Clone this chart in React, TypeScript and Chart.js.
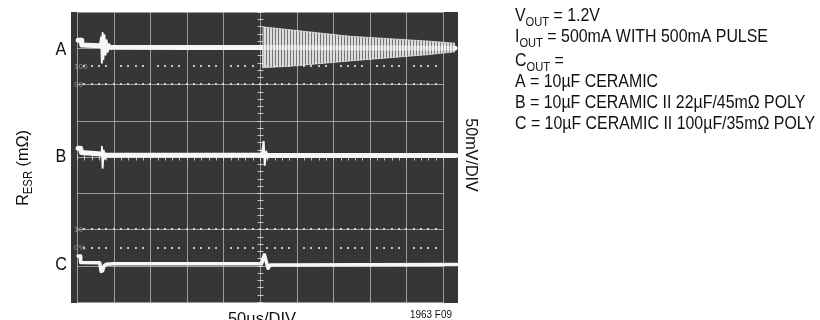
import React, { useEffect, useRef } from "react";
import { Chart, registerables } from "chart.js";
Chart.register(...registerables);

// Scope traces, in screen divisions (x: 0..10 time div, y: 0..8 vertical div)
const traceA: [number, number][] = [
  [0.03, 7.22], [0.12, 7.22], [0.13, 7.09], [0.62, 7.07], [0.9, 7.03],
  [3.0, 7.02], [5.06, 7.02], [10.33, 7.0],
];
const traceARing: [number, number][] = [
  [0.62, 7.07], [0.66, 7.3], [0.68, 6.6], [0.7, 7.42], [0.72, 6.7], [0.75, 7.36],
  [0.78, 6.82], [0.81, 7.22], [0.84, 6.9], [0.88, 7.12], [0.93, 6.98], [1.0, 7.04],
];
const traceAEnvTop: [number, number][] = [
  [5.07, 7.02], [5.08, 7.59], [5.9, 7.5], [7.46, 7.33], [9.56, 7.2], [10.33, 7.14],
];
const traceAEnvBottom: [number, number][] = [
  [5.07, 7.02], [5.08, 6.46], [5.9, 6.51], [7.46, 6.65], [9.56, 6.82], [10.33, 6.9],
];
const traceB: [number, number][] = [
  [0.03, 4.24], [0.1, 4.24], [0.12, 4.12], [0.66, 4.08], [0.8, 4.05],
  [5.05, 4.05], [5.27, 4.04], [10.35, 4.04],
];
const traceBRing1: [number, number][] = [
  [0.66, 4.08], [0.68, 4.28], [0.7, 3.7], [0.73, 4.18], [0.76, 3.95], [0.8, 4.05],
];
const traceBRing2: [number, number][] = [
  [5.05, 4.05], [5.1, 4.42], [5.13, 3.78], [5.17, 4.15], [5.21, 3.98], [5.27, 4.04],
];
const traceC: [number, number][] = [
  [0.03, 1.27], [0.09, 1.27], [0.1, 1.09], [0.62, 1.08], [0.66, 0.84],
  [0.7, 0.86], [0.74, 1.0], [0.8, 1.04], [1.0, 1.05], [5.04, 1.05],
  [5.12, 1.3], [5.22, 0.93], [5.28, 1.02], [10.38, 1.03],
];

const traceLabels = ["A", "B", "C"];
const traceLabelLevels = [7.02, 4.06, 1.06];
const refMarks = ["100", "90", "10", "0%"];
const refMarkLevels = [6.5, 6.0, 2.0, 1.5];

type Seg = [string, number];
const noteLines: Seg[][] = [
  [["V", 0], ["OUT", 1], [" = 1.2V", 0]],
  [["I", 0], ["OUT", 1], [" = 500mA WITH 500mA PULSE", 0]],
  [["C", 0], ["OUT", 1], [" =", 0]],
  [["A = 10µF CERAMIC", 0]],
  [["B = 10µF CERAMIC II 22µF/45mΩ POLY", 0]],
  [["C = 10µF CERAMIC II 100µF/35mΩ POLY", 0]],
];
const noteBaselines = [21, 42, 66, 87, 108, 129];
const yTitle: Seg[] = [["R", 0], ["ESR", 1], [" (mΩ)", 0]];
const rightTitle = "50mV/DIV";
const xTitle = "50µs/DIV";
const figId = "1963 F09";

const FONT = '"Liberation Sans", Arial, sans-serif';

function pts(a: [number, number][]) {
  return a.map(([x, y]) => ({ x, y }));
}

function segWidth(ctx: CanvasRenderingContext2D, segs: Seg[], size: number, sx: number) {
  let w = 0;
  for (const [t, s] of segs) {
    ctx.font = `${s ? size * 0.7 : size}px ${FONT}`;
    w += ctx.measureText(t).width;
  }
  return w * sx;
}
function drawSegs(ctx: CanvasRenderingContext2D, segs: Seg[], x: number, y: number, size: number, sx: number) {
  ctx.save();
  ctx.translate(x, y);
  ctx.scale(sx, 1);
  let cx = 0;
  for (const [t, s] of segs) {
    ctx.font = `${s ? size * 0.7 : size}px ${FONT}`;
    ctx.fillText(t, cx, s ? size * 0.25 : 0);
    cx += ctx.measureText(t).width;
  }
  ctx.restore();
}
function drawCentered(ctx: CanvasRenderingContext2D, t: string, size: number, sx: number, x: number, y: number) {
  ctx.save();
  ctx.translate(x, y);
  ctx.scale(sx, 1);
  ctx.font = `${size}px ${FONT}`;
  ctx.textAlign = "center";
  ctx.fillText(t, 0, 0);
  ctx.restore();
}

export default function App() {
  const ref = useRef<HTMLCanvasElement>(null);
  useEffect(() => {
    const canvas = ref.current!;
    const pc = document.createElement("canvas");
    pc.width = 3;
    pc.height = 1;
    const pctx = pc.getContext("2d")!;
    pctx.fillStyle = "rgba(238,238,238,0.9)";
    pctx.fillRect(0, 0, 2, 1);
    pctx.fillStyle = "rgba(150,150,150,0.65)";
    pctx.fillRect(2, 0, 1, 1);
    const pattern = canvas.getContext("2d")!.createPattern(pc, "repeat")!;

    const scopeBg = {
      id: "scopeBg",
      beforeDatasetsDraw(chart: any) {
        const { ctx, chartArea: ca, scales } = chart;
        const xs = scales.x, ys = scales.y;
        ctx.save();
        ctx.fillStyle = "#363636";
        ctx.fillRect(ca.left, ca.top, ca.right - ca.left, ca.bottom - ca.top);
        const X = (v: number) => Math.round(xs.getPixelForValue(v)) + 0.5;
        const Y = (v: number) => Math.round(ys.getPixelForValue(v)) + 0.5;
        ctx.strokeStyle = "rgba(200,200,200,0.7)";
        ctx.lineWidth = 1;
        for (let i = 0; i <= 10; i++) {
          ctx.beginPath();
          ctx.moveTo(X(i), ca.top);
          ctx.lineTo(X(i), ca.bottom);
          ctx.stroke();
        }
        for (let j = 0; j <= 8; j++) {
          ctx.beginPath();
          ctx.moveTo(X(0), Y(j));
          ctx.lineTo(X(10), Y(j));
          ctx.stroke();
        }
        ctx.strokeStyle = "rgba(220,220,220,0.85)";
        for (let k = 0; k <= 40; k++) {
          const py = Y(k * 0.2);
          ctx.beginPath();
          ctx.moveTo(X(5) - 3, py);
          ctx.lineTo(X(5) + 3, py);
          ctx.stroke();
        }
        for (let k = 0; k <= 50; k++) {
          const px = X(k * 0.2);
          ctx.beginPath();
          ctx.moveTo(px, Y(4) - 3);
          ctx.lineTo(px, Y(4) + 3);
          ctx.stroke();
        }
        ctx.fillStyle = "rgba(225,225,225,0.85)";
        for (let m = 0; m < refMarkLevels.length; m++) {
          const lv = refMarkLevels[m];
          const py = Math.round(ys.getPixelForValue(lv));
          const full = lv % 1 === 0;
          for (let k = 1; k < 50; k++) {
            if (!full && k % 5 === 0) continue;
            const px = Math.round(xs.getPixelForValue(k * 0.2));
            ctx.fillRect(px - 1, py - 1, 2, 2);
          }
        }
        ctx.fillStyle = "rgba(170,170,170,0.8)";
        ctx.font = `8px ${FONT}`;
        ctx.textBaseline = "middle";
        ctx.textAlign = "left";
        for (let m = 0; m < refMarks.length; m++) {
          ctx.fillText(refMarks[m], ca.left + 3, ys.getPixelForValue(refMarkLevels[m]));
        }
        ctx.restore();
      },
      afterDraw(chart: any) {
        const { ctx, scales } = chart;
        const ys = scales.y;
        ctx.save();
        ctx.fillStyle = "#111";
        ctx.textBaseline = "alphabetic";
        ctx.textAlign = "left";
        for (let i = 0; i < traceLabels.length; i++) {
          drawCentered(ctx, traceLabels[i], 18, 0.9, 61, ys.getPixelForValue(traceLabelLevels[i]) + 7);
        }
        for (let i = 0; i < noteLines.length; i++) {
          drawSegs(ctx, noteLines[i], 515, noteBaselines[i], 18.5, 0.86);
        }
        // left rotated title
        ctx.save();
        ctx.translate(28, 168);
        ctx.rotate(-Math.PI / 2);
        const w = segWidth(ctx, yTitle, 17, 0.95);
        drawSegs(ctx, yTitle, -w / 2, 0, 17, 0.95);
        ctx.restore();
        // right rotated title
        ctx.save();
        ctx.translate(466, 155);
        ctx.rotate(Math.PI / 2);
        drawCentered(ctx, rightTitle, 17, 0.95, 0, 0);
        ctx.restore();
        drawCentered(ctx, xTitle, 17, 0.97, 262, 324);
        drawCentered(ctx, figId, 11, 0.9, 431, 318);
        ctx.restore();
      },
    };

    const line = (data: [number, number][], w: number) => ({
      data: pts(data),
      borderColor: "#f6f6f6",
      borderWidth: w,
      pointRadius: 0,
      tension: 0,
      fill: false,
      borderJoinStyle: "round" as const,
      borderCapStyle: "round" as const,
    });

    const chart = new Chart(canvas, {
      type: "line",
      data: {
        datasets: [
          {
            data: pts(traceAEnvTop),
            borderColor: "rgba(235,235,235,0.7)",
            borderWidth: 1,
            pointRadius: 0,
            tension: 0,
            fill: false,
          },
          {
            data: pts(traceAEnvBottom),
            borderColor: "rgba(235,235,235,0.7)",
            borderWidth: 1,
            pointRadius: 0,
            tension: 0,
            fill: "-1",
            backgroundColor: pattern as any,
          },
          line(traceA, 5),
          line(traceARing, 2),
          line(traceB, 5),
          line(traceBRing1, 2),
          line(traceBRing2, 2),
          line(traceC, 3.5),
        ],
      },
      options: {
        responsive: false,
        animation: false,
        events: [],
        layout: { padding: { left: 71, right: 362, top: 12, bottom: 17 } },
        plugins: { legend: { display: false }, tooltip: { enabled: false } },
        scales: {
          x: { type: "linear", min: -0.164, max: 10.41, display: false },
          y: { type: "linear", min: -0.03, max: 8, display: false },
        },
      },
      plugins: [scopeBg],
    });
    return () => chart.destroy();
  }, []);
  return (
    <div style={{ position: "fixed", left: 0, top: 0, width: 820, height: 320, background: "#fff" }}>
      <canvas ref={ref} width={820} height={320} style={{ display: "block" }} />
    </div>
  );
}
